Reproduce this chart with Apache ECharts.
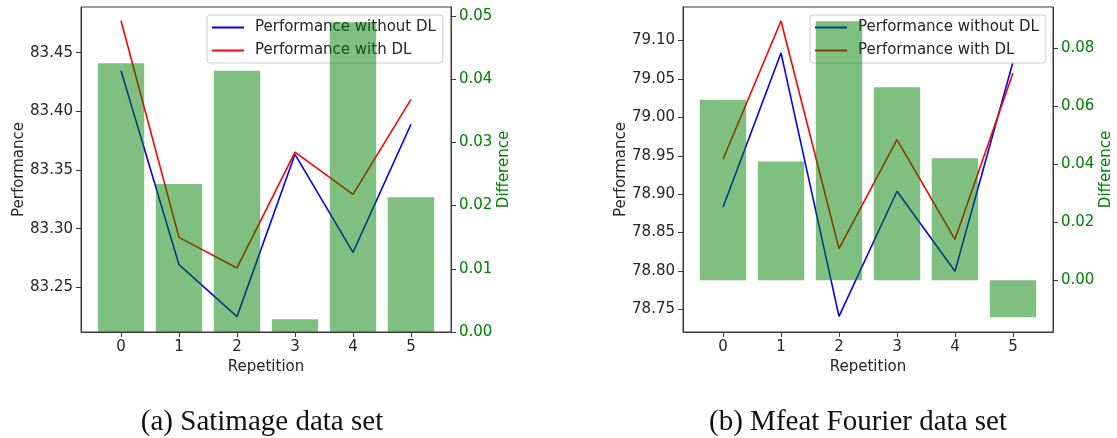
<!DOCTYPE html>
<html>
<head>
<meta charset="utf-8">
<script src="https://cdn.jsdelivr.net/npm/echarts@6/dist/echarts.min.js"></script>
<style>
  html, body { margin: 0; padding: 0; background: #ffffff; }
  #chart { width: 1117px; height: 438px; }
</style>
</head>
<body>
<div id="chart"></div>
<script>
// Repetition index on the x axis
const CATEGORIES = [0, 1, 2, 3, 4, 5];
const X_TICKS = [0, 1, 2, 3, 4, 5];

// (a) Satimage
const SAT_WITHOUT = [83.4347, 83.2693, 83.2250, 83.3634, 83.2798, 83.3890];
const SAT_WITH    = [83.4773, 83.2926, 83.2665, 83.3653, 83.3293, 83.4103];
const SAT_DIFF    = [0.0425, 0.0234, 0.0413, 0.0020, 0.0490, 0.0213];
const SAT_PERF_TICKS = [83.25, 83.30, 83.35, 83.40, 83.45];
const SAT_DIFF_TICKS = [0.00, 0.01, 0.02, 0.03, 0.04, 0.05];

// (b) Mfeat Fourier
const MF_WITHOUT = [78.8830, 79.0839, 78.7410, 78.9038, 78.7996, 79.0721];
const MF_WITH    = [78.9455, 79.1255, 78.8292, 78.9711, 78.8413, 79.0578];
const MF_DIFF    = [0.0622, 0.0409, 0.0892, 0.0665, 0.0420, -0.0127];
const MF_PERF_TICKS = [78.75, 78.80, 78.85, 78.90, 78.95, 79.00, 79.05, 79.10];
const MF_DIFF_TICKS = [0.00, 0.02, 0.04, 0.06, 0.08];

const CAPTIONS = ['(a) Satimage data set', '(b) Mfeat Fourier data set'];
const NAME_WITHOUT = 'Performance without DL';
const NAME_WITH = 'Performance with DL';

const FONT = 'DejaVu Sans';
const FS = 15;
const INK = '#262626';
const SPINE = '#3a3a3a';
const GREEN = '#008000';

const X_MIN = -0.69, X_MAX = 5.69;
const PLOT_W = 370, PLOT_H = 325, PLOT_TOP = 7;
const barPx = PLOT_W / (X_MAX - X_MIN) * 0.8;

const pairs = (ys) => CATEGORIES.map((x, i) => [x, ys[i]]);

function xAxis(gridIndex) {
  return {
    type: 'value', gridIndex, min: X_MIN, max: X_MAX,
    name: 'Repetition', nameLocation: 'middle', nameGap: 25,
    nameTextStyle: { fontFamily: FONT, fontSize: FS, color: INK },
    axisLine: { onZero: false, lineStyle: { color: SPINE, width: 1 } },
    axisTick: { customValues: X_TICKS, length: 5, inside: false, lineStyle: { color: SPINE } },
    axisLabel: { customValues: X_TICKS, margin: 8, fontFamily: FONT, fontSize: FS, color: INK },
    splitLine: { show: false }
  };
}

function perfAxis(gridIndex, min, max, ticks) {
  return {
    type: 'value', gridIndex, position: 'left', min, max,
    name: 'Performance', nameLocation: 'middle', nameGap: 54, nameRotate: 90,
    nameTextStyle: { fontFamily: FONT, fontSize: FS, color: INK },
    axisLine: { show: true, onZero: false, lineStyle: { color: SPINE, width: 1 } },
    axisTick: { show: true, customValues: ticks, length: 5, lineStyle: { color: SPINE } },
    axisLabel: { customValues: ticks, margin: 8, fontFamily: FONT, fontSize: FS, color: INK,
                 formatter: (v) => Number(v).toFixed(2) },
    splitLine: { show: false }
  };
}

function diffAxis(gridIndex, min, max, ticks) {
  return {
    type: 'value', gridIndex, position: 'right', min, max,
    name: 'Difference', nameLocation: 'middle', nameGap: 45, nameRotate: 90,
    nameTextStyle: { fontFamily: FONT, fontSize: FS, color: GREEN },
    axisLine: { show: true, onZero: false, lineStyle: { color: SPINE, width: 1 } },
    axisTick: { show: true, customValues: ticks, length: 5, lineStyle: { color: SPINE } },
    axisLabel: { customValues: ticks, margin: 8, fontFamily: FONT, fontSize: FS, color: GREEN,
                 formatter: (v) => Number(v).toFixed(2) },
    splitLine: { show: false }
  };
}

function lineSeries(name, color, xi, yi, ys) {
  return {
    type: 'line', name, xAxisIndex: xi, yAxisIndex: yi, data: pairs(ys),
    symbol: 'none', z: 1, animation: false,
    lineStyle: { color, width: 1.6 }, itemStyle: { color }
  };
}

function barSeries(xi, yi, ys) {
  return {
    type: 'bar', name: 'Difference', xAxisIndex: xi, yAxisIndex: yi, data: pairs(ys),
    barWidth: barPx, z: 5, animation: false,
    itemStyle: { color: GREEN, opacity: 0.5 }
  };
}

// Legend handles are plain line segments, drawn as thin rects
function legend(left) {
  return {
    data: [NAME_WITHOUT, NAME_WITH], orient: 'vertical', left, top: 15, z: 3,
    icon: 'rect', itemWidth: 32, itemHeight: 2, itemGap: 6,
    padding: [4, 7, 4, 5],
    backgroundColor: 'rgba(255,255,255,0.8)', borderColor: '#cccccc', borderWidth: 1, borderRadius: 3,
    selectedMode: false,
    textStyle: { fontFamily: FONT, fontSize: FS, color: INK, lineHeight: 17, padding: [0, 0, 0, 6] }
  };
}

const chart = echarts.init(document.getElementById('chart'), null, { renderer: 'canvas' });
chart.setOption({
  backgroundColor: '#ffffff',
  animation: false,
  title: [
    { text: CAPTIONS[0], left: 257, top: 403, textAlign: 'center',
      textStyle: { fontFamily: 'Liberation Serif', fontSize: 29, fontWeight: 'normal', color: '#111' } },
    { text: CAPTIONS[1], left: 853, top: 403, textAlign: 'center',
      textStyle: { fontFamily: 'Liberation Serif', fontSize: 29, fontWeight: 'normal', color: '#111' } }
  ],
  grid: [
    { left: 81, top: PLOT_TOP, width: PLOT_W, height: PLOT_H, show: true, borderColor: SPINE, borderWidth: 1, backgroundColor: 'transparent' },
    { left: 683, top: PLOT_TOP, width: PLOT_W, height: PLOT_H, show: true, borderColor: SPINE, borderWidth: 1, backgroundColor: 'transparent' }
  ],
  legend: [legend(207), legend(810)],
  xAxis: [xAxis(0), xAxis(1)],
  yAxis: [
    perfAxis(0, 83.2119, 83.4890, SAT_PERF_TICKS),
    diffAxis(0, 0, 0.0514, SAT_DIFF_TICKS),
    perfAxis(1, 78.7206, 79.1437, MF_PERF_TICKS),
    diffAxis(1, -0.0178, 0.0941, MF_DIFF_TICKS)
  ],
  series: [
    lineSeries(NAME_WITHOUT, '#0000ff', 0, 0, SAT_WITHOUT),
    lineSeries(NAME_WITH, '#ff0000', 0, 0, SAT_WITH),
    barSeries(0, 1, SAT_DIFF),
    lineSeries(NAME_WITHOUT, '#0000ff', 1, 2, MF_WITHOUT),
    lineSeries(NAME_WITH, '#ff0000', 1, 2, MF_WITH),
    barSeries(1, 3, MF_DIFF)
  ]
});
</script>
</body>
</html>
